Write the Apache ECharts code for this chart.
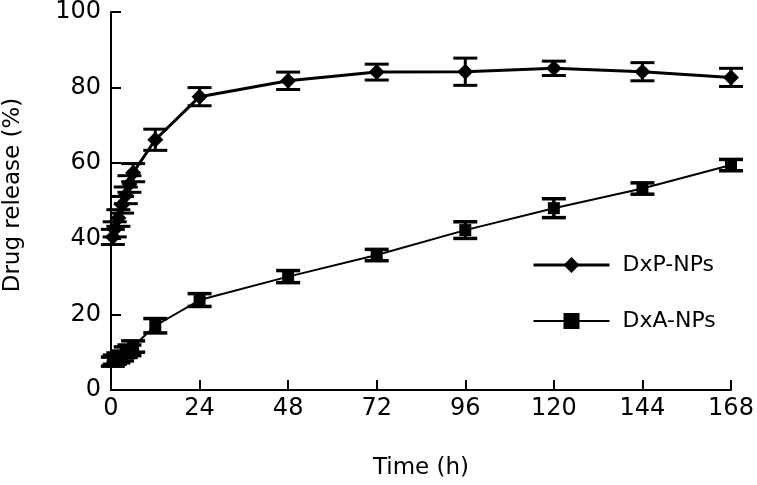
<!DOCTYPE html>
<html>
<head>
<meta charset="utf-8">
<script src="https://cdn.jsdelivr.net/npm/echarts@6/dist/echarts.min.js"></script>
<style>html,body{margin:0;padding:0;background:#fff;}#chart{width:757px;height:485px;}</style>
</head>
<body>
<div id="chart"></div>
<script>
var times = [0.5, 1, 2, 3, 4, 5, 6, 12, 24, 48, 72, 96, 120, 144, 168];
var dxpMean = [40.5, 42.5, 45.5, 49, 51.5, 54.5, 57.5, 66.2, 77.6, 81.8, 84.1, 84.2, 85.1, 84.2, 82.7];
var dxpErr  = [2, 2, 2.2, 2.2, 2.2, 2.2, 2.4, 2.8, 2.4, 2.3, 2.1, 3.6, 1.9, 2.4, 2.4];
var dxaMean = [7.5, 8, 8.5, 9, 10, 10.5, 11.5, 17, 23.8, 30, 35.7, 42.3, 48.1, 53.3, 59.5];
var dxaErr  = [1.2, 1.2, 1.3, 1.3, 1.4, 1.4, 1.5, 1.9, 1.7, 1.6, 1.5, 2.2, 2.5, 1.5, 1.5];
var xTicks = [0, 24, 48, 72, 96, 120, 144, 168];
var yTicks = [0, 20, 40, 60, 80, 100];

function pairs(t, v) { return t.map(function (x, i) { return [x, v[i]]; }); }
function errData(t, m, e) { return t.map(function (x, i) { return [x, m[i] - e[i], m[i] + e[i]]; }); }

function errRender(halfCap, lw) {
  return function (params, api) {
    var x = api.value(0);
    var lo = api.coord([x, api.value(1)]);
    var hi = api.coord([x, api.value(2)]);
    var st = { stroke: '#000', lineWidth: lw };
    return {
      type: 'group',
      children: [
        { type: 'line', shape: { x1: lo[0], y1: lo[1], x2: hi[0], y2: hi[1] }, style: st },
        { type: 'line', shape: { x1: lo[0] - halfCap, y1: lo[1], x2: lo[0] + halfCap, y2: lo[1] }, style: st },
        { type: 'line', shape: { x1: hi[0] - halfCap, y1: hi[1], x2: hi[0] + halfCap, y2: hi[1] }, style: st }
      ]
    };
  };
}

var font = 'DejaVu Sans';
var chart = echarts.init(document.getElementById('chart'));
chart.setOption({
  animation: false,
  backgroundColor: '#fff',
  grid: { left: 111, right: 26, top: 12, bottom: 95, containLabel: false, outerBoundsMode: 'none' },
  legend: {
    data: [
      { name: 'DxP-NPs', lineStyle: { width: 3 } },
      { name: 'DxA-NPs', lineStyle: { width: 2 } }
    ],
    orient: 'vertical',
    left: 527,
    top: 249,
    itemWidth: 76,
    itemHeight: 20,
    itemGap: 34,
    textStyle: { fontFamily: font, fontSize: 22, color: '#000', padding: [0, 0, 0, 8] }
  },
  xAxis: {
    type: 'value', min: 0, max: 168, interval: 24,
    name: 'Time (h)', nameLocation: 'middle', nameGap: 67,
    nameTextStyle: { fontFamily: font, fontSize: 23, color: '#000' },
    axisLine: { lineStyle: { color: '#000', width: 2 } },
    axisTick: { inside: true, length: 10, lineStyle: { color: '#000', width: 2 } },
    axisLabel: { fontFamily: font, fontSize: 24, color: '#000', margin: 7 },
    splitLine: { show: false }
  },
  yAxis: {
    type: 'value', min: 0, max: 100, interval: 20,
    name: 'Drug release (%)', nameLocation: 'middle', nameGap: 86, nameRotate: 90,
    nameTextStyle: { fontFamily: font, fontSize: 23, color: '#000', padding: [0, 0, 0, 12] },
    axisLine: { show: true, lineStyle: { color: '#000', width: 2 } },
    axisTick: { show: true, inside: true, length: 10, lineStyle: { color: '#000', width: 2 } },
    axisLabel: { fontFamily: font, fontSize: 24, color: '#000', margin: 10 },
    splitLine: { show: false }
  },
  series: [
    {
      type: 'custom', name: 'errP', data: errData(times, dxpMean, dxpErr),
      renderItem: errRender(12, 3), encode: { x: 0, y: [1, 2] }, z: 3, silent: true
    },
    {
      type: 'custom', name: 'errA', data: errData(times, dxaMean, dxaErr),
      renderItem: errRender(12, 3.5), encode: { x: 0, y: [1, 2] }, z: 3, silent: true
    },
    {
      type: 'line', name: 'DxP-NPs', data: pairs(times, dxpMean),
      symbol: 'diamond', symbolSize: 16, showAllSymbol: true,
      lineStyle: { color: '#000', width: 3 }, itemStyle: { color: '#000' }, z: 4
    },
    {
      type: 'line', name: 'DxA-NPs', data: pairs(times, dxaMean),
      symbol: 'rect', symbolSize: 12, showAllSymbol: true,
      lineStyle: { color: '#000', width: 2 }, itemStyle: { color: '#000' }, z: 4
    }
  ]
});
</script>
</body>
</html>
